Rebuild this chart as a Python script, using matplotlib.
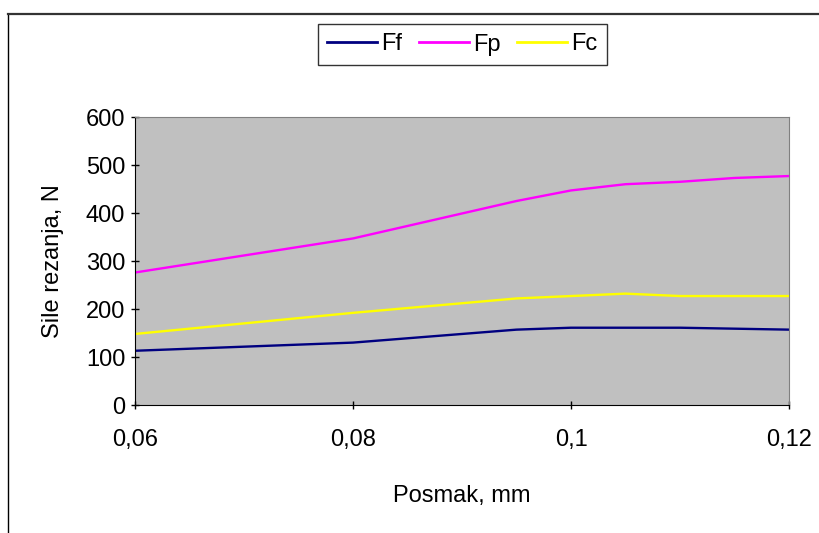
import matplotlib
matplotlib.use("Agg")
import matplotlib.pyplot as plt
from matplotlib.lines import Line2D

feed = [0.06, 0.08, 0.095, 0.1, 0.105, 0.11, 0.115, 0.12]
Ff = [113, 130, 157, 161, 161, 161, 159, 157]
Fp = [276, 347, 425, 447, 460, 465, 473, 477]
Fc = [148, 192, 222, 227, 232, 227, 227, 227]
xticks = [0.06, 0.08, 0.1, 0.12]
xticklabels = ["0,06", "0,08", "0,1", "0,12"]
yticks = [0, 100, 200, 300, 400, 500, 600]

plt.rcParams['font.family'] = ['Liberation Sans', 'DejaVu Sans']

W, H = 819, 533
fig = plt.figure(figsize=(W/100, H/100), dpi=100)
fig.patch.set_facecolor('white')

# outer frame
fig.add_artist(Line2D([8/W, 8/W], [0, 1-14/H], color='black', lw=1.0, transform=fig.transFigure))
fig.add_artist(Line2D([8/W, 1], [1-14/H, 1-14/H], color='#333333', lw=1.6, transform=fig.transFigure))

x0, x1, y0, y1 = 135, 789, 117, 405
ax = fig.add_axes([x0/W, 1-y1/H, (x1-x0)/W, (y1-y0)/H])
ax.set_facecolor('#c0c0c0')

ax.plot(feed, Ff, color='#000080', lw=1.7, label='Ff')
ax.plot(feed, Fp, color='#ff00ff', lw=1.7, label='Fp')
ax.plot(feed, Fc, color='#ffff00', lw=1.7, label='Fc')

ax.set_xlim(0.06, 0.12)
ax.set_ylim(0, 600)
ax.set_xticks(xticks)
ax.set_xticklabels(xticklabels)
ax.set_yticks(yticks)
ax.tick_params(axis='both', labelsize=17, length=6, direction='inout', width=1, colors='black')
ax.tick_params(axis='x', pad=14)
ax.tick_params(axis='y', pad=4)
for s in ['top', 'right']:
    ax.spines[s].set_color('#808080')
for s in ['left', 'bottom']:
    ax.spines[s].set_color('black')

ax.set_xlabel('Posmak, mm', fontsize=17, labelpad=25)
ax.set_ylabel('Sile rezanja, N', fontsize=17, labelpad=16)

leg = fig.legend(loc='center', bbox_to_anchor=((319+606)/2/W, 1-44.5/H), ncol=3,
                 fontsize=17, frameon=True, fancybox=False, edgecolor='black',
                 handlelength=2.1, handletextpad=0.2, columnspacing=0.7,
                 borderpad=0.4, shadow=False)
leg.get_frame().set_linewidth(1.0)
for l in leg.get_lines():
    l.set_linewidth(2)

fig.savefig('out.png', dpi=100, facecolor='white')
